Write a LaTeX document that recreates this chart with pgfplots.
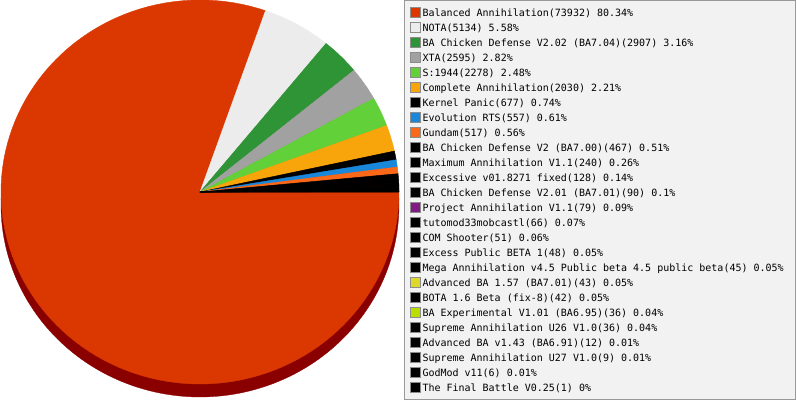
\documentclass[border=0pt]{standalone}
\usepackage{fontspec}
\usepackage{pgfplots}
\pgfplotsset{compat=1.18}
\newfontfamily\legfont{DejaVu Sans Mono}
\definecolor{cBA}{HTML}{DA3800}
\definecolor{cRim}{HTML}{8A0000}
\definecolor{cNOTA}{HTML}{ECECEC}
\definecolor{cBCD}{HTML}{2E9436}
\definecolor{cXTA}{HTML}{A1A1A1}
\definecolor{cS}{HTML}{62D038}
\definecolor{cCA}{HTML}{F8A50B}
\definecolor{cEvo}{HTML}{1987DA}
\definecolor{cGun}{HTML}{FB6818}
\definecolor{cPA}{HTML}{801B84}
\definecolor{cABA}{HTML}{DCD82C}
\definecolor{cBAE}{HTML}{BCDD00}
\definecolor{cBlk}{HTML}{000000}
\definecolor{legbord}{HTML}{8C8C8C}
\definecolor{boxfill}{HTML}{F2F2F2}
\definecolor{boxdraw}{HTML}{999999}
\def\total{92026}
\begin{document}
\begin{tikzpicture}
\begin{axis}[
  width=797pt, height=400pt, scale only axis,
  xmin=0, xmax=797, ymin=0, ymax=400,
  hide axis,
  legend image code/.code={\draw[#1, draw=legbord, line width=1pt] (0pt,-5pt) rectangle (10pt,5pt);},
  legend cell align=left,
  legend style={at={(axis cs:410,395)}, anchor=north west, draw=none, fill=none,
    inner sep=0pt, outer sep=0pt, row sep=0pt, column sep=1.5pt,
    font=\legfont\fontsize{10}{12}\selectfont,
    nodes={inner sep=0pt, outer sep=0pt, text height=11.15pt, text depth=3.85pt}},
]
\path (rel axis cs:0,0) rectangle (rel axis cs:1,1);
% 3D rim
\addplot[fill=cRim, draw=cRim, line width=0.3pt, domain=0:360, samples=200, forget plot]
  ({200+199*cos(x)},{195+192*sin(x)});
% slices (value / colour in the legend / colour drawn in the pie; the tiniest slices show black)
\gdef\cum{0}
\foreach \v/\c/\p in {73932/cBA/cBA, 5134/cNOTA/cNOTA, 2907/cBCD/cBCD, 2595/cXTA/cXTA,
  2278/cS/cS, 2030/cCA/cCA, 677/cBlk/cBlk, 557/cEvo/cEvo, 517/cGun/cGun,
  467/cBlk/cBlk, 240/cBlk/cBlk, 128/cBlk/cBlk, 90/cBlk/cBlk, 79/cPA/cBlk,
  66/cBlk/cBlk, 51/cBlk/cBlk, 48/cBlk/cBlk, 45/cBlk/cBlk, 43/cABA/cBlk, 42/cBlk/cBlk,
  36/cBAE/cBlk, 36/cBlk/cBlk, 12/cBlk/cBlk, 9/cBlk/cBlk, 6/cBlk/cBlk, 1/cBlk/cBlk} {
  \edef\start{\fpeval{-\cum*360/\total}}
  \xdef\cum{\fpeval{\cum+\v}}
  \edef\stop{\fpeval{-\cum*360/\total}}
  \edef\temp{\noexpand\addplot[fill=\p, draw=\p, line width=0.4pt, line join=round,
    domain=\stop:\start, samples=120, variable=\noexpand\t, forget plot]
    ({200+199*cos(\noexpand\t)},{208+192*sin(\noexpand\t)}) -- (axis cs:200,208) -- cycle;
    \noexpand\addlegendimage{fill=\c}}
  \temp
}
\draw[fill=boxfill, draw=boxdraw, line width=1pt] (axis cs:404.5,1) rectangle (axis cs:795.7,399.5);
\legend{
Balanced Annihilation(73932) 80.34\%,
NOTA(5134) 5.58\%,
BA Chicken Defense V2.02 (BA7.04)(2907) 3.16\%,
XTA(2595) 2.82\%,
S:1944(2278) 2.48\%,
Complete Annihilation(2030) 2.21\%,
Kernel Panic(677) 0.74\%,
Evolution RTS(557) 0.61\%,
Gundam(517) 0.56\%,
BA Chicken Defense V2 (BA7.00)(467) 0.51\%,
Maximum Annihilation V1.1(240) 0.26\%,
Excessive v01.8271 fixed(128) 0.14\%,
BA Chicken Defense V2.01 (BA7.01)(90) 0.1\%,
Project Annihilation V1.1(79) 0.09\%,
tutomod33mobcastl(66) 0.07\%,
COM Shooter(51) 0.06\%,
Excess Public BETA 1(48) 0.05\%,
Mega Annihilation v4.5 Public beta 4.5 public beta(45) 0.05\%,
Advanced BA 1.57 (BA7.01)(43) 0.05\%,
BOTA 1.6 Beta (fix-8)(42) 0.05\%,
BA Experimental V1.01 (BA6.95)(36) 0.04\%,
Supreme Annihilation U26 V1.0(36) 0.04\%,
Advanced BA v1.43 (BA6.91)(12) 0.01\%,
Supreme Annihilation U27 V1.0(9) 0.01\%,
GodMod v11(6) 0.01\%,
The Final Battle V0.25(1) 0\%}
\end{axis}
\end{tikzpicture}
\end{document}
